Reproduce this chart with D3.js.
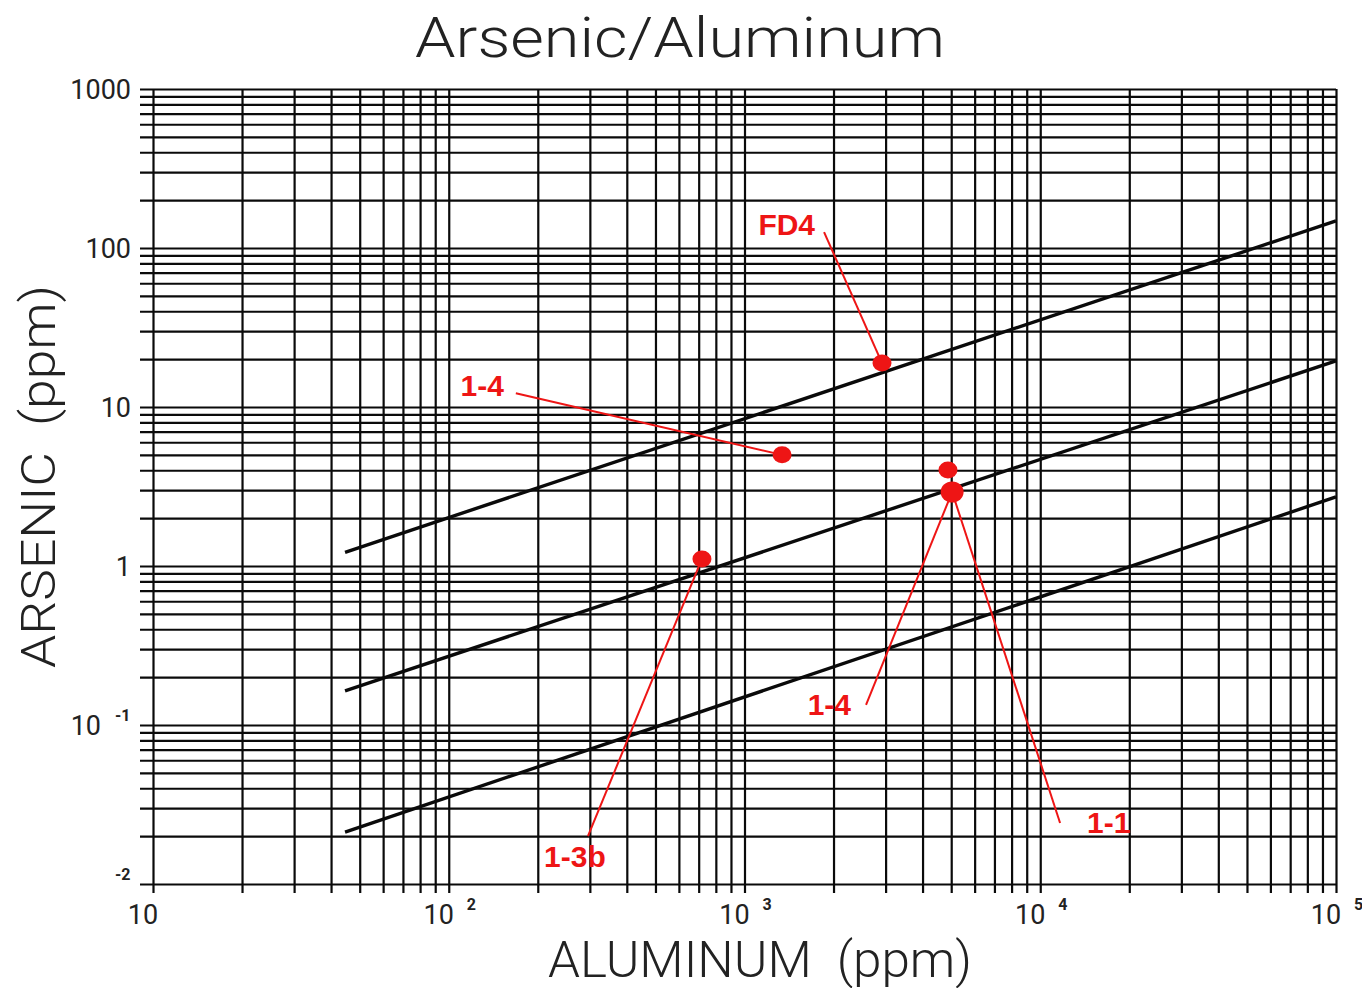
<!DOCTYPE html>
<html>
<head>
<meta charset="utf-8">
<script src="https://cdn.jsdelivr.net/npm/d3@7"></script>
<style>
  html, body { margin: 0; padding: 0; background: #fff; }
  svg { display: block; }
  text { white-space: pre; }
</style>
</head>
<body>
<div id="chart"></div>
<script>
////////////////////////////// DATA ////////////////////////////////////

const xDomain = [10, 100000];
const yDomain = [0.01, 1000];

// major tick labels
const xMajor = [10, 100, 1000, 10000, 100000];
const xExp = ["", "2", "3", "4", "5"];
const yMajor = [1000, 100, 10, 1, 0.1, 0.01];
const yBase = ["1000", "100", "10", "1", "10", ""];
const yExp = ["", "", "", "", "-1", "-2"];

// ratio lines (start / end in ppm)
const ratioLines = [
  { x0: 44.6, y0: 1.22, x1: 100000, y1: 148 },
  { x0: 44.6, y0: 0.164, x1: 100000, y1: 19.5 },
  { x0: 44.6, y0: 0.0212, x1: 100000, y1: 2.72 },
];

// samples (aluminum ppm, arsenic ppm)
const sampleIds = ["FD4", "1-4a", "1-4b", "1-1", "1-3b"];
const sampleAl = [2917, 1340, 4875, 5035, 718];
const sampleAs = [18.9, 5.0, 4.02, 2.92, 1.107];

// annotation labels: text, where the leader starts, which sample it points to
const labelText = ["FD4", "1-4", "1-4", "1-1", "1-3b"];
const labelAl = [1858, 168.6, 2576, 11670, 295.6];
const labelAs = [126, 12.2, 0.1337, 0.0242, 0.02];
const labelTarget = ["FD4", "1-4a", "1-1", "1-1", "1-3b"];

////////////////////////////// SET UP ////////////////////////////////////

const width = 1362;
const height = 988;
const red = "#ee1515";
const ink = "#0a0a0a";
const font = "Roboto, 'Liberation Sans', sans-serif";

const svg = d3
  .select("#chart")
  .append("svg")
  .attr("width", width)
  .attr("height", height);

const x = d3.scaleLog().domain(xDomain).range([153, 1336]);
const y = d3.scaleLog().domain(yDomain).range([884, 89]);

////////////////////////////// GRID ////////////////////////////////////

// vertical lines, running a little below the frame as ticks
svg
  .append("g")
  .attr("transform", `translate(0,${y(yDomain[0]) + 9})`)
  .call(
    d3
      .axisBottom(x)
      .tickValues(x.ticks())
      .tickSize(-(y(yDomain[0]) + 9 - y(yDomain[1])))
      .tickFormat("")
  )
  .call((g) => g.select(".domain").remove())
  .call((g) => g.selectAll("line").attr("stroke", ink).attr("stroke-width", 2.2));

// horizontal lines, running a little left of the frame as ticks
svg
  .append("g")
  .attr("transform", `translate(${x(xDomain[0]) - 13},0)`)
  .call(
    d3
      .axisLeft(y)
      .tickValues(y.ticks())
      .tickSize(-(x(xDomain[1]) - x(xDomain[0]) + 13))
      .tickFormat("")
  )
  .call((g) => g.select(".domain").remove())
  .call((g) => g.selectAll("line").attr("stroke", ink).attr("stroke-width", 2.2));

////////////////////////////// TICK LABELS ////////////////////////////////////

svg
  .append("g")
  .selectAll("text")
  .data(xMajor)
  .join("text")
  .attr("x", (d) => x(d) - 10)
  .attr("y", 924)
  .attr("text-anchor", "middle")
  .style("font-family", font)
  .style("font-size", "27px")
  .style("fill", "#222")
  .text("10");

svg
  .append("g")
  .selectAll("text")
  .data(xMajor)
  .join("text")
  .attr("x", (d) => x(d) + 18)
  .attr("y", 910)
  .attr("text-anchor", "start")
  .style("font-family", font)
  .style("font-size", "16px")
  .style("font-weight", "bold")
  .style("fill", "#222")
  .text((d, i) => xExp[i]);

svg
  .append("g")
  .selectAll("text")
  .data(yMajor)
  .join("text")
  .attr("x", (d, i) => (yExp[i] ? 101 : 131))
  .attr("y", (d) => y(d) + 10)
  .attr("text-anchor", "end")
  .style("font-family", font)
  .style("font-size", "27px")
  .style("fill", "#222")
  .text((d, i) => yBase[i]);

svg
  .append("g")
  .selectAll("text")
  .data(yMajor)
  .join("text")
  .attr("x", 115)
  .attr("y", (d) => y(d) - 4)
  .attr("text-anchor", "start")
  .style("font-family", font)
  .style("font-size", "16px")
  .style("font-weight", "bold")
  .style("fill", "#222")
  .text((d, i) => yExp[i]);

////////////////////////////// TITLES ////////////////////////////////////

svg
  .append("text")
  .attr("x", 415)
  .attr("y", 57)
  .attr("textLength", 530)
  .attr("lengthAdjust", "spacingAndGlyphs")
  .style("font-family", font)
  .style("font-weight", 300)
  .style("font-size", "56px")
  .style("fill", "#222")
  .text("Arsenic/Aluminum");

svg
  .append("text")
  .attr("x", 548)
  .attr("y", 977)
  .attr("textLength", 424)
  .attr("lengthAdjust", "spacingAndGlyphs")
  .style("font-family", font)
  .style("font-weight", 300)
  .style("font-size", "50px")
  .style("fill", "#222")
  .text("ALUMINUM  (ppm)");

svg
  .append("text")
  .attr("transform", "translate(55,668) rotate(-90)")
  .attr("textLength", 383)
  .attr("lengthAdjust", "spacingAndGlyphs")
  .style("font-family", font)
  .style("font-weight", 300)
  .style("font-size", "48px")
  .style("fill", "#222")
  .text("ARSENIC  (ppm)");

////////////////////////////// RATIO LINES ////////////////////////////////////

svg
  .append("g")
  .selectAll("line")
  .data(ratioLines)
  .join("line")
  .attr("x1", (d) => x(d.x0))
  .attr("y1", (d) => y(d.y0))
  .attr("x2", (d) => x(d.x1))
  .attr("y2", (d) => y(d.y1))
  .attr("stroke", ink)
  .attr("stroke-width", 3.4);

////////////////////////////// SAMPLES + LABELS ////////////////////////////////////

const samples = sampleIds.map((id, i) => ({ id, al: sampleAl[i], as: sampleAs[i] }));
const byId = new Map(samples.map((d) => [d.id, d]));

const labels = labelText.map((t, i) => ({
  text: t,
  al: labelAl[i],
  as: labelAs[i],
  target: byId.get(labelTarget[i]),
}));

// leader lines
svg
  .append("g")
  .selectAll("line")
  .data(labels)
  .join("line")
  .attr("x1", (d) => x(d.al))
  .attr("y1", (d) => y(d.as))
  .attr("x2", (d) => x(d.target.al))
  .attr("y2", (d) => y(d.target.as))
  .attr("stroke", red)
  .attr("stroke-width", 2);

// dots
svg
  .append("g")
  .selectAll("ellipse")
  .data(samples)
  .join("ellipse")
  .attr("cx", (d) => x(d.al))
  .attr("cy", (d) => y(d.as))
  .attr("rx", (d) => (d.id === "1-1" ? 11.5 : 9.5))
  .attr("ry", (d) => (d.id === "1-1" ? 10.5 : 8.5))
  .attr("fill", red);

// label text, placed relative to the start of each leader
svg
  .append("g")
  .selectAll("text")
  .data(labels)
  .join("text")
  .attr("x", (d, i) => {
    if (i === 0) return x(d.al) - 9;
    if (i === 1) return x(d.al) - 12;
    if (i === 2) return x(d.al) - 15;
    if (i === 3) return x(d.al) + 27;
    return x(d.al) - 13;
  })
  .attr("y", (d, i) => {
    if (i <= 1) return y(d.as) + 3;
    if (i <= 3) return y(d.as) + 10;
    return y(d.as) + 31;
  })
  .attr("text-anchor", (d, i) => (i === 3 ? "start" : i === 4 ? "middle" : "end"))
  .style("font-family", "'Liberation Sans', Arial, sans-serif")
  .style("font-weight", "bold")
  .style("font-size", "30px")
  .style("fill", red)
  .text((d) => d.text);
</script>
</body>
</html>
